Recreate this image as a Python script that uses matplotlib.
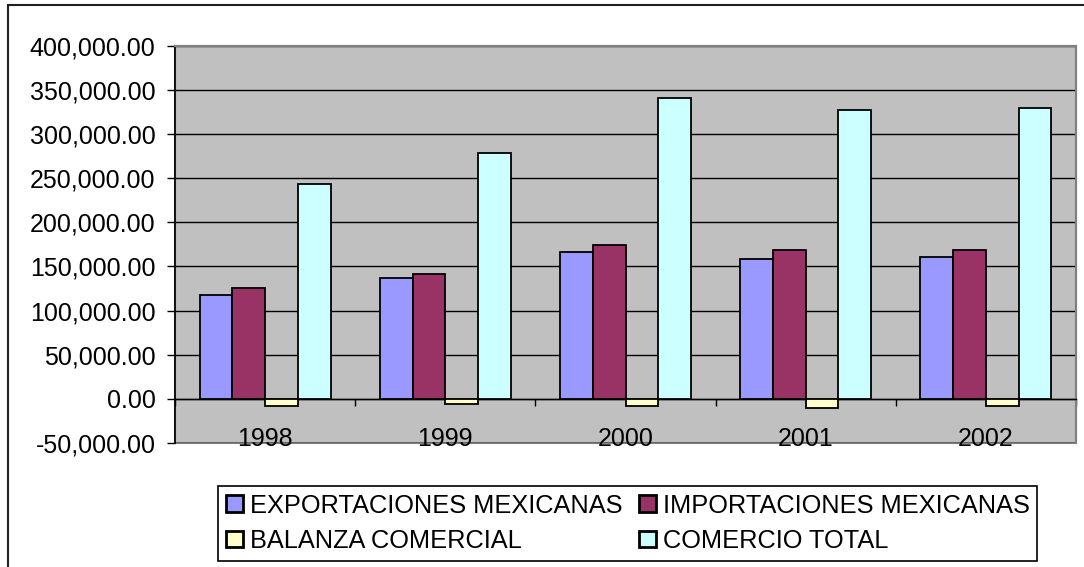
#!/usr/bin/env python3

import numpy as np
import matplotlib as mpl
import matplotlib.pyplot as plt
from matplotlib.patches import Rectangle
from matplotlib.ticker import FuncFormatter

years = ['1998', '1999', '2000', '2001', '2002']
exportaciones = [117459, 136391, 166455, 158443, 160763]
importaciones = [125373, 141975, 174458, 168396, 168679]
balanza = [-7914, -5584, -8003, -9953, -7916]
comercio = [242832, 278366, 340913, 326839, 329442]

series = [
    ('EXPORTACIONES MEXICANAS', exportaciones, '#9999FF'),
    ('IMPORTACIONES MEXICANAS', importaciones, '#993366'),
    ('BALANZA COMERCIAL', balanza, '#FFFFCC'),
    ('COMERCIO TOTAL', comercio, '#CCFFFF'),
]


def main():
    mpl.rcParams['font.family'] = ['Liberation Sans', 'DejaVu Sans']
    mpl.rcParams['font.size'] = 18

    W, H = 1084, 567
    fig = plt.figure(figsize=(W / 100, H / 100), dpi=100)
    ax = fig.add_axes([175 / W, 1 - 443 / H, (1076 - 175) / W, (443 - 45.7) / H])

    # outer chart border
    fig.patches.append(Rectangle((8 / W, -0.1), 1.2, 1 - 4.5 / H + 0.1,
                                 transform=fig.transFigure, fill=False,
                                 edgecolor='#202020', linewidth=1.5))

    ax.set_facecolor('#C0C0C0')
    ax.patch.set_edgecolor('#808080')
    ax.patch.set_linewidth(1.5)

    x = np.arange(1, len(years) + 1)
    w = 1 / 5.5
    handles = []
    for i, (name, vals, col) in enumerate(series):
        b = ax.bar(x + (i - 1.5) * w, vals, w, color=col, edgecolor='black',
                   linewidth=1.3, label=name, zorder=3)
        handles.append(b)

    ax.set_xlim(0.5, len(years) + 0.5)
    ax.set_ylim(-50000, 400000)
    ax.set_yticks(np.arange(-50000, 400001, 50000))
    ax.yaxis.set_major_formatter(FuncFormatter(lambda v, p: f'{v:,.2f}'))
    ax.tick_params(axis='y', length=6, width=1, direction='out', pad=8)
    ax.grid(True, axis='y', color='black', linewidth=1, zorder=1)

    ax.spines['bottom'].set_position(('data', 0))
    ax.spines['bottom'].set_linewidth(1)
    ax.spines['left'].set_linewidth(1.2)
    for s in ['top', 'right']:
        ax.spines[s].set_color('#808080')
        ax.spines[s].set_linewidth(1.5)

    ax.set_xticks(np.arange(0.5, len(years) + 1, 1))
    ax.set_xticklabels([])
    ax.set_xticks(x, minor=True)
    ax.set_xticklabels(years, minor=True)
    ax.tick_params(axis='x', which='major', length=5, width=1, direction='out')
    ax.tick_params(axis='x', which='minor', length=0, pad=20)

    order = [handles[0], handles[2], handles[1], handles[3]]
    leg = fig.legend(order, [h.get_label() for h in order], ncol=2,
                     loc='upper left', bbox_to_anchor=(218 / W, 1 - 486 / H),
                     borderaxespad=0, fancybox=False, edgecolor='black',
                     framealpha=1, fontsize=18.3, handlelength=0.67,
                     handleheight=0.63, handletextpad=0.28, labelspacing=0.45,
                     columnspacing=0.65, borderpad=0.3)
    leg.get_frame().set_linewidth(1.2)
    for h in leg.legend_handles:
        h.set_linewidth(2)

    fig.savefig('out.png', dpi=100)


if __name__ == '__main__':
    main()
